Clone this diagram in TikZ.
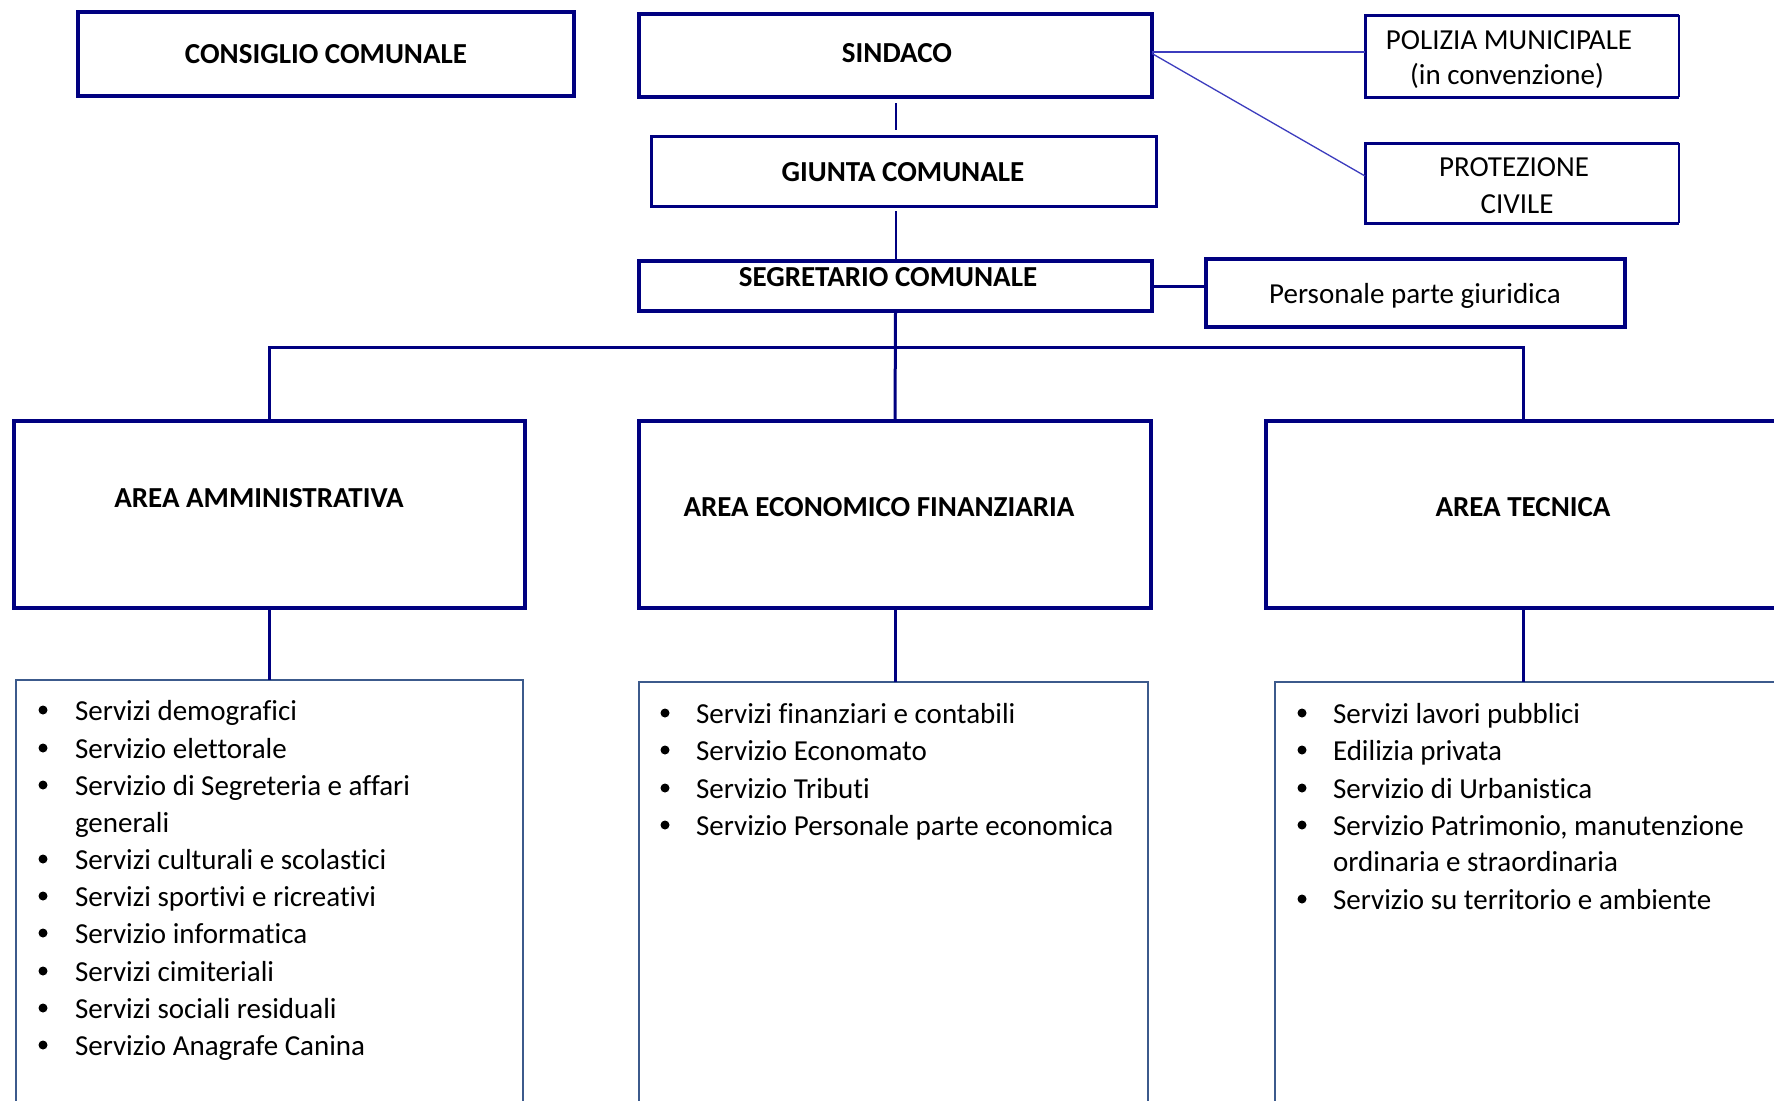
\documentclass[tikz,border=0pt]{standalone}
\usepackage{fontspec}
\setmainfont{Carlito}[Ligatures=NoCommon]
\usetikzlibrary{calc}
\definecolor{navy}{RGB}{0,0,128}
\definecolor{slateb}{RGB}{60,90,140}
\definecolor{thinb}{RGB}{60,60,190}
\begin{document}
\begin{tikzpicture}[x=1pt,y=-1pt,
  every node/.style={inner sep=0pt,outer sep=0pt},
  thickbox/.style={draw=navy,line width=4pt},
  medbox/.style={draw=navy,line width=3pt},
  listbox/.style={draw=slateb,line width=1.6pt},
  conn/.style={draw=navy,line width=3pt},
  connthin/.style={draw=navy,line width=2pt},
  hair/.style={draw=thinb,line width=1.3pt},
  hdr/.style={font=\fontsize{29}{35}\selectfont\bfseries,align=center},
  txt/.style={font=\fontsize{29}{36}\selectfont,align=center},
  item/.style={font=\fontsize{29}{36}\selectfont,anchor=mid west},
  dot/.style={circle,fill=black,minimum size=9pt}
]
\useasboundingbox (0,0) rectangle (1774,1100);
\fill[white] (0,0) rectangle (1774,1100);

% boxes
\node[thickbox,minimum width=496pt,minimum height=84pt,anchor=north west] (cons) at (78,12) {};
\node[thickbox,minimum width=513pt,minimum height=83pt,anchor=north west] (sind) at (639,14) {};
\node[minimum width=314pt,minimum height=82pt,anchor=north west] (pol) at (1365,15) {};
\node[minimum width=314pt,minimum height=80pt,anchor=north west] (prot) at (1365,143) {};
\node[medbox,minimum width=505pt,minimum height=70pt,anchor=north west] (giunta) at (651,136) {};
\node[thickbox,minimum width=513pt,minimum height=50pt,anchor=north west] (seg) at (639,261) {};
\node[thickbox,line width=4.5pt,minimum width=419pt,minimum height=68pt,anchor=north west] (pers) at (1206,259) {};
\node[thickbox,line width=4.5pt,minimum width=511pt,minimum height=187pt,anchor=north west] (aamm) at (14,421) {};
\node[thickbox,line width=4.5pt,minimum width=512pt,minimum height=187pt,anchor=north west] (aeco) at (639,421) {};
\node[thickbox,line width=4.5pt,minimum width=514pt,minimum height=187pt,anchor=north west] (atec) at (1266,421) {};
\node[listbox,minimum width=507pt,minimum height=440pt,anchor=north west] (l1) at (16,680) {};
\node[listbox,minimum width=509pt,minimum height=440pt,anchor=north west] (l2) at (639,682) {};
\node[listbox,minimum width=515pt,minimum height=440pt,anchor=north west] (l3) at (1275,682) {};

% open-right boxes
\draw[medbox] (pol.north east) -- (pol.north west) -- (pol.south west) -- (pol.south east);
\draw[draw=navy,line width=1.2pt] (pol.north east) -- (pol.south east);
\draw[medbox] (prot.north east) -- (prot.north west) -- (prot.south west) -- (prot.south east);
\draw[draw=navy,line width=1.2pt] (prot.north east) -- (prot.south east);

% texts
\node[hdr] (tcons) at (326,54) {CONSIGLIO COMUNALE};
\node[hdr] (tsind) at (897,53) {SINDACO};
\node[txt] (tpol1) at (1509,40) {POLIZIA MUNICIPALE};
\node[txt] (tpol2) at (1507,76) {(in convenzione)};
\node[txt] (tprot1) at (1514,167) {PROTEZIONE};
\node[txt] (tprot2) at (1517,204) {CIVILE};
\node[hdr] (tgiunta) at (903,172) {GIUNTA COMUNALE};
\node[hdr] (tseg) at (888,277) {SEGRETARIO COMUNALE};
\node[txt] (tpers) at (1415,296) {Personale parte giuridica};
\node[hdr] (taamm) at (259,498) {AREA AMMINISTRATIVA};
\node[hdr] (taeco) at (879,507) {AREA ECONOMICO FINANZIARIA};
\node[hdr] (tatec) at (1523,507) {AREA TECNICA};

% connectors
\coordinate (polin) at ($(pol.west)+(0,-4)$);
\coordinate (protin) at ($(prot.west)+(0,-7)$);
\draw[hair] (sind.east |- polin) -- (polin);
\draw[hair] ($(sind.east)+(0,-2)$) -- (protin);
\draw[connthin,shorten <=6pt,shorten >=6pt] (sind.south) -- (sind.south |- giunta.north);
\draw[connthin,shorten <=5pt] (giunta.south -| seg.north) -- (seg.north);
\draw[conn] (seg.east) -- (seg.east -| pers.west);
\coordinate (bus) at ($(seg.south)+(0,36)$);
\draw[conn] (seg.south) -- (aeco.north);
\draw[conn] (aamm.north) -- (aamm.north |- bus) -- (atec.north |- bus) -- (atec.north);
\draw[conn] (aamm.south) -- (aamm.south |- l1.north);
\draw[conn] (aeco.south) -- (aeco.south |- l2.north);
\draw[conn] (atec.south) -- (atec.south |- l3.north);

% list 1
\foreach \t/\y/\b [count=\i] in {Servizi demografici/710/1, Servizio elettorale/748/1, Servizio di Segreteria e affari/785/1, generali/822/0, Servizi culturali e scolastici/859/1, Servizi sportivi e ricreativi/896/1, Servizio informatica/933/1, Servizi cimiteriali/971/1, Servizi sociali residuali/1008/1, Servizio Anagrafe Canina/1045/1}{
  \node[item] (a\i) at (75,\y+8) {\t};
  \ifnum\b=1 \node[dot] (ad\i) at (43,\y) {};\fi
}
% list 2
\foreach \t/\y [count=\i] in {Servizi finanziari e contabili/713, Servizio Economato/750, Servizio Tributi/788, Servizio Personale parte economica/825}{
  \node[item] (b\i) at (696,\y+8) {\t};
  \node[dot] (bd\i) at (665,\y) {};
}
% list 3
\foreach \t/\y/\b [count=\i] in {Servizi lavori pubblici/713/1, Edilizia privata/750/1, Servizio di Urbanistica/788/1, {Servizio Patrimonio, manutenzione}/825/1, ordinaria e straordinaria/861/0, Servizio su territorio e ambiente/899/1}{
  \node[item] (c\i) at (1333,\y+8) {\t};
  \ifnum\b=1 \node[dot] (cd\i) at (1302,\y) {};\fi
}
\end{tikzpicture}
\end{document}
